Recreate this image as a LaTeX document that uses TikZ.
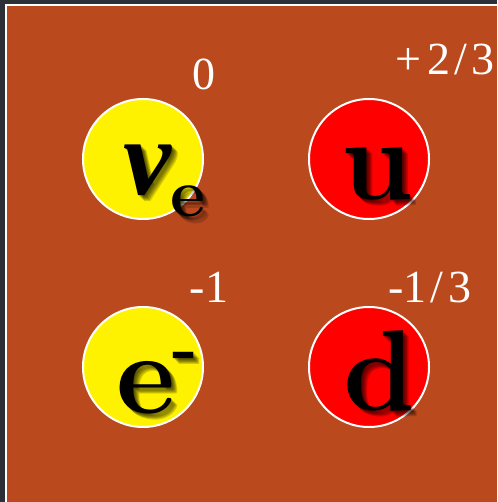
\documentclass[tikz,border=0pt]{standalone}
\usepackage{fontspec}
\newfontfamily\libs{Liberation Serif}
\definecolor{bg}{HTML}{BB491E}
\definecolor{framecol}{HTML}{2C3036}
\begin{document}
\begin{tikzpicture}[x=1pt,y=-1pt,
  particle/.style={circle,draw=white,line width=2pt,minimum size=120pt,inner sep=0pt},
  big/.style={font=\bfseries\fontsize{115}{115}\selectfont,anchor=base,inner sep=0pt},
  nuf/.style={font=\libs\bfseries\itshape\fontsize{108}{108}\selectfont,anchor=base,inner sep=0pt},
  subs/.style={font=\bfseries\fontsize{68}{68}\selectfont,anchor=base,inner sep=0pt},
  charge/.style={font=\libs\fontsize{46}{46}\selectfont,text=white,anchor=base,inner sep=0pt},
  shade/.style={text=black,text opacity=0.16}]
\useasboundingbox (0,0) rectangle (497,502);
\fill[framecol] (0,0) rectangle (497,502);
\fill[white] (5,4) rectangle (497,502);
\fill[bg] (7,6) rectangle (497,502);
% particles
\node[particle,fill=yellow] (nuc) at (143,159) {};
\node[particle,fill=red] (uc) at (369,159) {};
\node[particle,fill=yellow] (ec) at (143,367) {};
\node[particle,fill=red] (dc) at (369,367) {};
% shadows
\foreach \o in {1,2,3,4,5,6}{
  \node[nuf,shade] (nush\o) at (147+\o,195+\o) {ν};
  \node[subs,shade] (esubsh\o) at (188+\o,217+\o) {e};
  \node[big,shade] (ush\o) at (377+\o,200+\o) {u};
  \node[big,shade] (esh\o) at (146+\o,413+\o) {e};
  \node[subs,shade] (minsh\o) at (185+\o,370+\o) {-};
  \node[big,shade] (dsh\o) at (379+\o,410+\o) {d};
}
% letters
\node[nuf] (nu) at (147,195) {ν};
\node[subs] (esub) at (188,217) {e};
\node[big] (u) at (377,200) {u};
\node[big] (e) at (146,413) {e};
\node[subs] (minus) at (185,370) {-};
\node[big] (d) at (379,410) {d};
% charges
\node[charge] (q0) at (204,90) {0};
\node[charge] (q1) at (445,75) {+\kern6pt2\kern4pt/\kern5pt3};
\node[charge] (q2) at (209,302) {-1};
\node[charge] (q3) at (430,302) {-1\kern4pt/\kern5pt3};
\end{tikzpicture}
\end{document}
